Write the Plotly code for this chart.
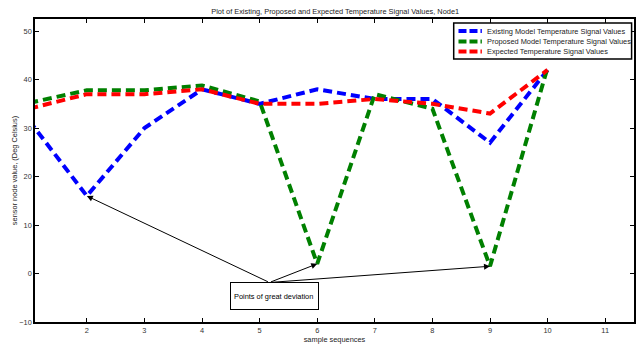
import plotly.graph_objects as go

x_seq = [1, 2, 3, 4, 5, 6, 7, 8, 9, 10]
existing = [31.5, 16, 30, 38, 35, 38, 36, 36, 27, 42]
proposed = [35.2, 37.8, 37.8, 38.8, 35.5, 2, 37, 34, 1.5, 42.5]
expected = [34.0, 37, 37, 38, 35, 35, 36, 35, 33, 42]

x_ticks = [2, 3, 4, 5, 6, 7, 8, 9, 10, 11]
y_ticks = [-10, 0, 10, 20, 30, 40, 50]

FONT = "Liberation Sans, Arial, sans-serif"
FS = 7.4
DASH = "9px,5px"

fig = go.Figure()
series = [
    ("Existing Model Temperature Signal Values", existing, "#0000FF"),
    ("Proposed Model Temperature Signal Values", proposed, "#008000"),
    ("Expected Temperature Signal Values", expected, "#FF0000"),
]
for name, vals, col in series:
    fig.add_trace(go.Scatter(x=x_seq, y=vals, mode="lines", name=name, showlegend=False,
                             hoverinfo="skip",
                             line=dict(color=col, width=4, dash=DASH)))

# custom compact legend (MATLAB style)
fig.add_shape(type="rect", xref="paper", yref="paper", x0=0.699, x1=0.996, y0=0.868, y1=0.987,
              line=dict(color="black", width=1.5), fillcolor="white", layer="above")
leg_y = [0.960, 0.926, 0.893]
for (name, _, col), ly in zip(series, leg_y):
    fig.add_shape(type="line", xref="paper", yref="paper", x0=0.707, x1=0.746, y0=ly, y1=ly,
                  line=dict(color=col, width=4, dash="8px,3px"), layer="above")
    fig.add_annotation(x=0.751, y=ly, xref="paper", yref="paper", text=name, showarrow=False,
                       xanchor="left", yanchor="middle",
                       font=dict(size=FS, color="#222222", family=FONT))

# deviation annotations
targets = [(x_seq[1], existing[1]), (x_seq[5], proposed[5]), (x_seq[8], proposed[8])]
tail = (5.17, -1.85)
for tx, ty in targets:
    fig.add_annotation(x=tx, y=ty, ax=tail[0], ay=tail[1], xref="x", yref="y",
                       axref="x", ayref="y", showarrow=True, arrowhead=2,
                       arrowsize=1.2, arrowwidth=1, arrowcolor="black", text="")
fig.add_annotation(x=5.25, y=-4.54, xref="x", yref="y", text="Points of great deviation",
                   showarrow=False, bordercolor="black", borderwidth=1, borderpad=3,
                   width=81, height=20, align="left",
                   bgcolor="white", font=dict(size=FS, color="black", family=FONT))

axis_common = dict(showgrid=False, zeroline=False, showline=True, linecolor="black",
                   linewidth=1.5, mirror="ticks", ticks="inside", ticklen=4,
                   tickcolor="black", tickfont=dict(size=FS, color="#333333", family=FONT))
fig.update_xaxes(range=[1.1, 11.5], tickvals=x_ticks, **axis_common,
                 title=dict(text="sample sequences", font=dict(size=FS, color="#222222", family=FONT),
                            standoff=2))
fig.update_yaxes(range=[-10, 52.5], tickvals=y_ticks, **axis_common,
                 title=dict(text="sensor node value, (Deg Celsius)",
                            font=dict(size=FS, color="#222222", family=FONT), standoff=1))

fig.update_layout(
    width=636, height=349,
    margin=dict(l=35, r=0, t=19, b=27),
    plot_bgcolor="white", paper_bgcolor="white",
    title=dict(text="Plot of Existing, Proposed and Expected Temperature Signal Values, Node1",
               x=0.527, xanchor="center", y=0.968, yanchor="middle",
               font=dict(size=FS, color="#222222", family=FONT)),
    showlegend=False,
)

fig.write_html("out.html", config={"displayModeBar": False},
               post_script="document.body.style.margin='0';")
